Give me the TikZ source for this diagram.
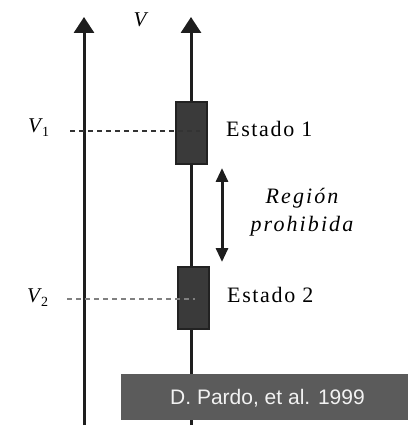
\documentclass[tikz,border=0pt]{standalone}
\usepackage{fontspec}
\setmainfont{Liberation Serif}
\newfontfamily\credfont{Liberation Sans}
\newfontfamily\estfont[LetterSpace=7.5]{Liberation Serif}
\newfontfamily\regfont[LetterSpace=9.5]{Liberation Serif}
\usetikzlibrary{arrows.meta}
\definecolor{axiscol}{HTML}{1E1E1E}
\definecolor{boxfill}{HTML}{3A3A3A}
\definecolor{boxedge}{HTML}{222222}
\definecolor{credfill}{HTML}{5B5B5B}
\definecolor{credtext}{HTML}{F2F2F2}
\begin{document}
\begin{tikzpicture}[x=1pt,y=-1pt,
  axisline/.style={line width=3pt, draw=axiscol, -{Triangle[width=20pt,length=16pt]}},
  rangearrow/.style={line width=3pt, draw=axiscol, {Triangle[width=12pt,length=14pt]}-{Triangle[width=12pt,length=14pt]}},
  statebox/.style={draw=boxedge, fill=boxfill, line width=2pt, minimum width=31pt, minimum height=62pt, inner sep=0pt},
  levelline/.style={line width=1.3pt, dash pattern=on 5pt off 4pt},
  vlabel/.style={inner sep=0pt, anchor=base west, font=\fontsize{21}{21}\selectfont},
  estlabel/.style={inner sep=0pt, anchor=base west, font=\fontsize{22}{22}\selectfont\estfont},
  credit/.style={inner sep=0pt, anchor=base, text=credtext, font=\fontsize{21}{21}\selectfont\credfont}
]
\useasboundingbox (0,0) rectangle (408,427);
% axes
\coordinate (la0) at (84,425);
\coordinate (la1) at (84,17);
\coordinate (ra0) at (191,425);
\coordinate (ra1) at (191,17);
\draw[axisline] (la0) -- (la1);
\draw[axisline] (ra0) -- (ra1);
\node[inner sep=0pt, anchor=base, font=\fontsize{21}{21}\selectfont\itshape] (vtop) at (140,27) {V};
% states
\node[statebox] (s1) at (191.5,133) {};
\node[statebox] (s2) at (193,297.5) {};
% level lines
\coordinate (d1a) at (70,131);
\coordinate (d1b) at (200,131);
\coordinate (d2a) at (67,299);
\coordinate (d2b) at (195,299);
\draw[levelline, draw=black!80] (d1a) -- (d1b);
\draw[levelline, draw=black!50] (d2a) -- (d2b);
\node[vlabel] (v1) at (28,133) {\textit{V}\kern-1pt\raisebox{-4pt}{\fontsize{14}{14}\selectfont 1}};
\node[vlabel] (v2) at (27,302) {\textit{V}\kern-1pt\raisebox{-4pt}{\fontsize{14}{14}\selectfont 2}};
\node[estlabel] (e1) at (226,137) {Estado 1};
\node[estlabel] (e2) at (227,302) {Estado 2};
% forbidden region
\coordinate (r1) at (222,168);
\coordinate (r2) at (222,262);
\draw[rangearrow] (r1) -- (r2);
\node[inner sep=0pt, align=center, font=\fontsize{22}{28}\selectfont\regfont\itshape] (reg) at (302,212) {Región\\prohibida};
% credit
\fill[credfill] (121,374) rectangle (408,420);
\node[credit] (cred) at (267.5,404) {D. Pardo, et al. 1999};
\end{tikzpicture}
\end{document}
